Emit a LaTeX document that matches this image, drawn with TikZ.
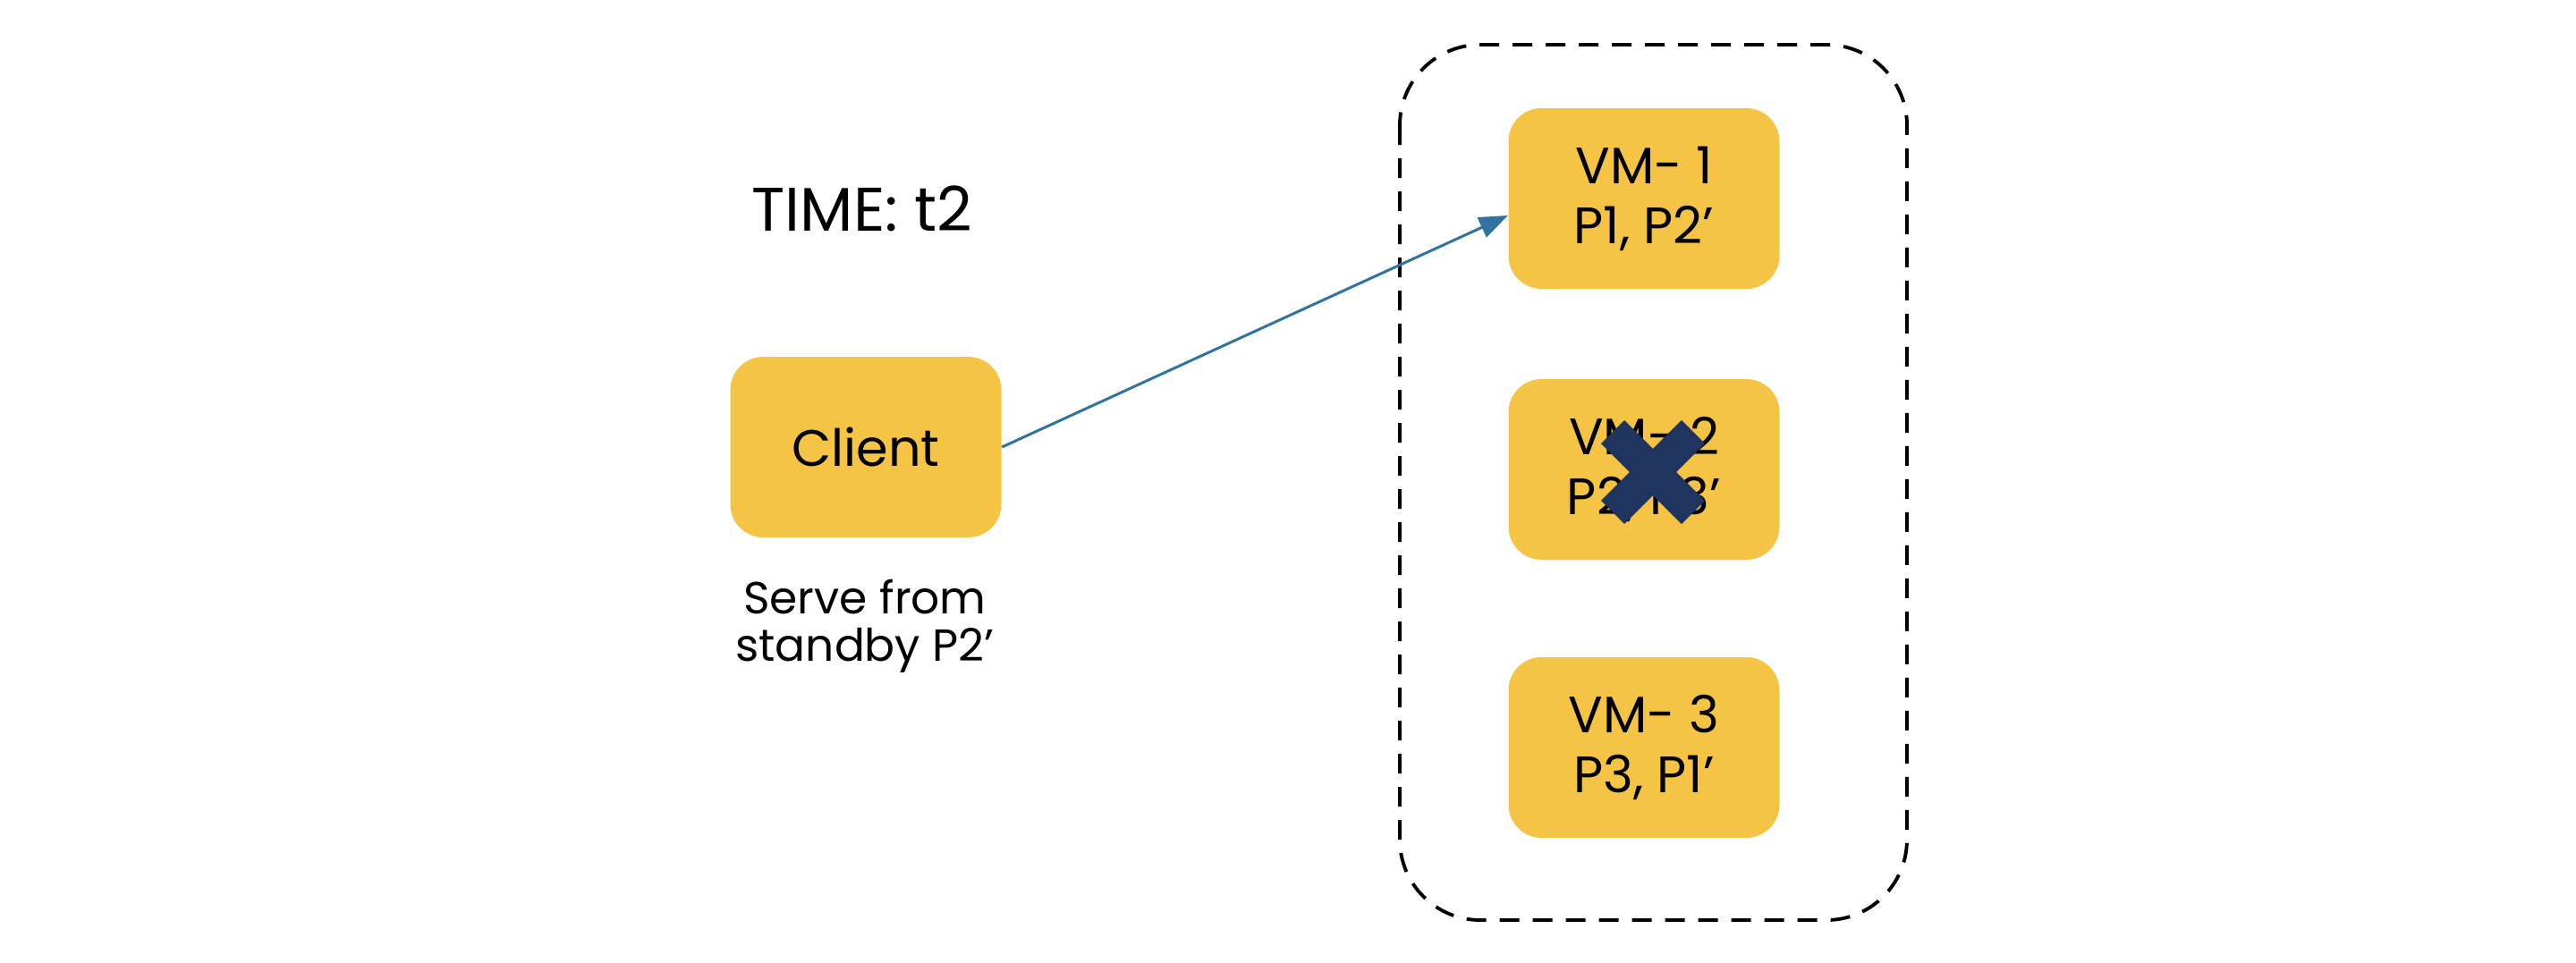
\documentclass[tikz,border=0pt]{standalone}
\usepackage{fontspec}
\setmainfont{Poppins}
\usepackage{xcolor}
\usepackage{tikz}
\usetikzlibrary{positioning, arrows.meta}
\definecolor{vmyellow}{HTML}{F5C445}
\definecolor{linkblue}{HTML}{31739F}
\definecolor{crossnavy}{HTML}{1F3560}

\tikzset{
    vmbox/.style={fill=vmyellow, rounded corners=0.37cm, minimum width=3.03cm,
                  minimum height=2.02cm, align=center, font=\fontsize{16.3}{19}\selectfont},
    failmark/.style={draw=crossnavy, line width=0.37cm, line cap=butt}
}

\begin{document}
\begin{tikzpicture}
    \useasboundingbox (0,0) rectangle (28.8,-10.76);

    % cluster boundary
    \draw[dashed, dash pattern=on 0.22cm off 0.15cm, line width=1.1pt, rounded corners=0.9cm]
      (15.65,-0.50) rectangle (21.32,-10.29);

    \node[vmbox] (client) at (9.68,-5.00) {Client};
    \node[font=\fontsize{19.6}{23}\selectfont] (timelabel) at (9.64,-2.33) {TIME: t2};
    \node[align=center, font=\fontsize{14.3}{15}\selectfont] (servenote) at (9.67,-7.00)
      {Serve from\\standby P2’};

    \node[vmbox] (vm1) at (18.38,-2.22) {VM- 1\\P1, P2’};
    \node[vmbox] (vm2) at (18.38,-5.25) {VM- 2\\P2, P3’};
    \node[vmbox] (vm3) at (18.38,-8.36) {VM- 3\\P3, P1’};

    % VM-2 is down
    \coordinate (xmark) at (18.48,-5.28);
    \draw[failmark] ([shift={(-0.45,0.45)}]xmark) -- ([shift={(0.45,-0.45)}]xmark);
    \draw[failmark] ([shift={(-0.45,-0.45)}]xmark) -- ([shift={(0.45,0.45)}]xmark);

    \draw[-{Triangle[length=0.32cm, width=0.24cm]}, draw=linkblue, fill=linkblue, line width=0.85pt]
      (client.east) -- ([yshift=-0.19cm]vm1.west);
  \end{tikzpicture}
\end{document}
